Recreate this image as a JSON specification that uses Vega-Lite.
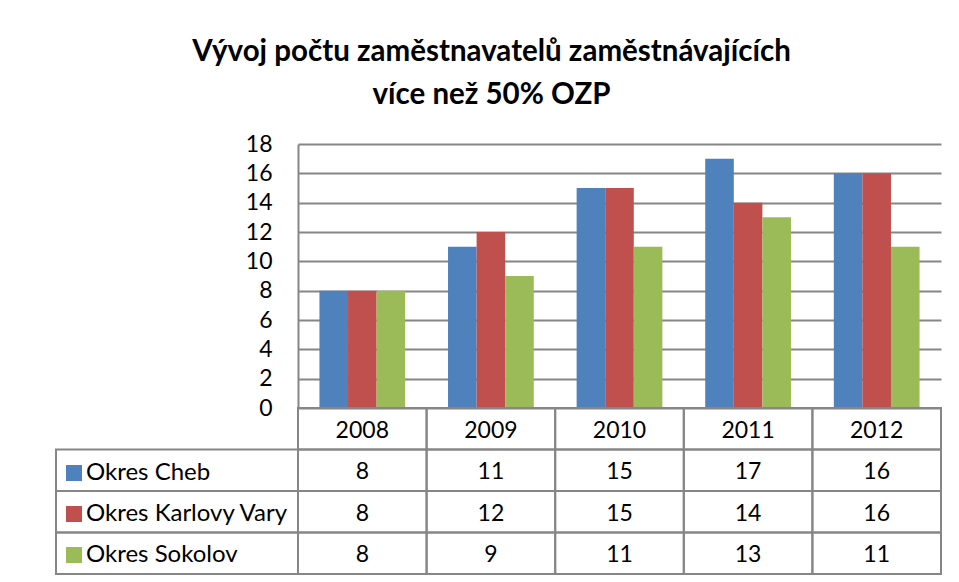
{
  "$schema": "https://vega.github.io/schema/vega-lite/v6.json",
  "padding": {"left": 55, "top": 36, "right": 5, "bottom": 5},
  "autosize": {"type": "pad"},
  "background": "white",
  "title": {
    "text": ["Vývoj počtu zaměstnavatelů zaměstnávajících", "více než 50% OZP"],
    "fontSize": 29.5,
    "font": "Lato",
    "fontWeight": "bold",
    "lineHeight": 43,
    "anchor": "middle",
    "color": "black",
    "offset": 23,
    "dx": -7
  },
  "datasets": {
    "d": [
      {"year": "2008", "series": "Okres Cheb", "value": 8},
      {"year": "2009", "series": "Okres Cheb", "value": 11},
      {"year": "2010", "series": "Okres Cheb", "value": 15},
      {"year": "2011", "series": "Okres Cheb", "value": 17},
      {"year": "2012", "series": "Okres Cheb", "value": 16},
      {"year": "2008", "series": "Okres Karlovy Vary", "value": 8},
      {"year": "2009", "series": "Okres Karlovy Vary", "value": 12},
      {"year": "2010", "series": "Okres Karlovy Vary", "value": 15},
      {"year": "2011", "series": "Okres Karlovy Vary", "value": 14},
      {"year": "2012", "series": "Okres Karlovy Vary", "value": 16},
      {"year": "2008", "series": "Okres Sokolov", "value": 8},
      {"year": "2009", "series": "Okres Sokolov", "value": 9},
      {"year": "2010", "series": "Okres Sokolov", "value": 11},
      {"year": "2011", "series": "Okres Sokolov", "value": 13},
      {"year": "2012", "series": "Okres Sokolov", "value": 11}
    ]
  },
  "data": {"name": "d"},
  "columns": 2,
  "spacing": 0,
  "bounds": "flush",
  "concat": [
    {
      "width": 242,
      "height": 264,
      "data": {"values": []},
      "mark": "point",
      "encoding": {}
    },
    {
      "width": 643,
      "height": 264,
      "mark": {"type": "bar"},
      "encoding": {
        "x": {"field": "year", "type": "nominal", "scale": {"paddingInner": 0.3333, "paddingOuter": 0.1667}, "axis": null},
        "xOffset": {"field": "series", "type": "nominal", "scale": {"domain": ["Okres Cheb", "Okres Karlovy Vary", "Okres Sokolov"], "paddingInner": 0, "paddingOuter": 0}},
        "y": {
          "field": "value", "type": "quantitative",
          "scale": {"domain": [0, 18], "nice": false},
          "axis": {
            "values": [0, 2, 4, 6, 8, 10, 12, 14, 16, 18],
            "grid": true, "gridColor": "#868686", "gridWidth": 2,
            "domainColor": "#868686", "domainWidth": 2,
            "ticks": false, "labelPadding": 26, "labelFontSize": 23, "labelFont": "Lato",
            "labelColor": "black", "title": null
          }
        },
        "color": {
          "field": "series", "type": "nominal",
          "scale": {"domain": ["Okres Cheb", "Okres Karlovy Vary", "Okres Sokolov"], "range": ["#4F81BD", "#C0504D", "#9BBB59"]},
          "legend": {
            "title": null, "orient": "none", "legendX": 6, "legendY": 317,
            "symbolType": "square", "symbolSize": 256, "symbolStrokeWidth": 0,
            "labelFontSize": 24, "labelFont": "Lato", "labelColor": "black",
            "rowPadding": 17, "labelOffset": 0, "padding": 0, "labelLimit": 400
          }
        }
      }
    },
    {
      "width": 242,
      "height": 166,
      "transform": [{"filter": "datum.year == '2008'"}],
      "mark": {"type": "rect", "filled": false, "stroke": "#868686", "strokeWidth": 2},
      "encoding": {
        "y": {"field": "series", "type": "nominal", "scale": {"domain": ["Rok", "Okres Cheb", "Okres Karlovy Vary", "Okres Sokolov"], "paddingInner": 0, "paddingOuter": 0}, "axis": null}
      }
    },
    {
      "width": 643,
      "height": 166,
      "layer": [
        {
          "mark": {"type": "rect", "filled": false, "stroke": "#868686", "strokeWidth": 2},
          "encoding": {
            "x": {"field": "year", "type": "nominal", "scale": {"paddingInner": 0, "paddingOuter": 0}, "axis": null},
            "y": {"field": "series", "type": "nominal", "scale": {"domain": ["Rok", "Okres Cheb", "Okres Karlovy Vary", "Okres Sokolov"], "paddingInner": 0, "paddingOuter": 0}, "axis": null}
          }
        },
        {
          "mark": {"type": "text", "fontSize": 23, "font": "Lato", "color": "black", "dy": 2},
          "encoding": {
            "x": {"field": "year", "type": "nominal"},
            "y": {"field": "series", "type": "nominal"},
            "text": {"field": "value", "type": "quantitative"}
          }
        },
        {
          "transform": [{"filter": "datum.series == 'Okres Cheb'"}],
          "mark": {"type": "rect", "filled": false, "stroke": "#868686", "strokeWidth": 2},
          "encoding": {
            "x": {"field": "year", "type": "nominal"},
            "y": {"datum": "Rok"}
          }
        },
        {
          "transform": [{"filter": "datum.series == 'Okres Cheb'"}],
          "mark": {"type": "text", "fontSize": 23, "font": "Lato", "color": "black", "dy": 2},
          "encoding": {
            "x": {"field": "year", "type": "nominal"},
            "y": {"datum": "Rok"},
            "text": {"field": "year", "type": "nominal"}
          }
        }
      ]
    }
  ],
  "config": {
    "view": {"stroke": null},
    "font": "Lato"
  }
}
